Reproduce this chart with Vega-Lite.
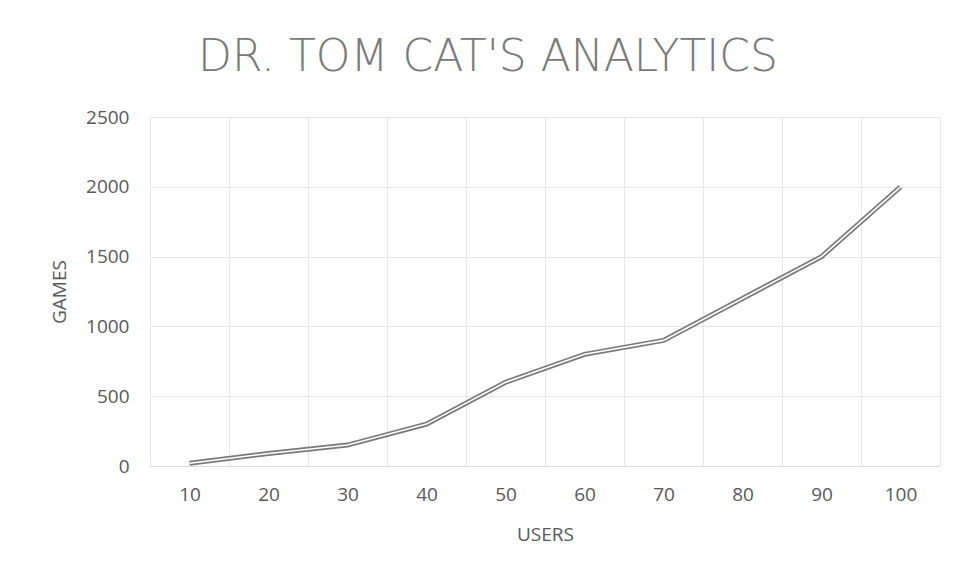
{
  "$schema": "https://vega.github.io/schema/vega-lite/v6.json",
  "autosize": "none",
  "width": 790,
  "height": 349,
  "padding": {"left": 150, "top": 117, "right": 18, "bottom": 111},
  "background": "white",
  "title": {
    "text": "DR. TOM CAT'S ANALYTICS",
    "font": "DejaVu Sans",
    "fontSize": 44,
    "fontWeight": 200,
    "color": "#7a7a7a",
    "anchor": "middle",
    "offset": 28,
    "dx": -57
  },
  "data": {
    "values": [
      {"users": "10", "games": 20},
      {"users": "20", "games": 90},
      {"users": "30", "games": 150},
      {"users": "40", "games": 300},
      {"users": "50", "games": 600},
      {"users": "60", "games": 800},
      {"users": "70", "games": 900},
      {"users": "80", "games": 1200},
      {"users": "90", "games": 1500},
      {"users": "100", "games": 2000}
    ]
  },
  "encoding": {
    "x": {
      "field": "users",
      "type": "ordinal",
      "sort": null,
      "scale": {"type": "band", "paddingInner": 0, "paddingOuter": 0},
      "axis": {
        "title": "USERS",
        "labelAngle": 0,
        "tickBand": "extent",
        "grid": true,
        "ticks": false,
        "domain": true,
        "domainColor": "#d9d9d9",
        "gridColor": "#e6e6e6",
        "labelPadding": 19,
        "titlePadding": 21
      }
    },
    "y": {
      "field": "games",
      "type": "quantitative",
      "scale": {"domain": [0, 2500]},
      "axis": {
        "title": "GAMES",
        "format": "d",
        "values": [0, 500, 1000, 1500, 2000, 2500],
        "grid": true,
        "ticks": false,
        "domain": false,
        "gridColor": "#e6e6e6",
        "labelPadding": 21,
        "titlePadding": 16
      }
    }
  },
  "layer": [
    {"mark": {"type": "line", "color": "#7a7a7a", "strokeWidth": 5}},
    {"mark": {"type": "line", "color": "#ffffff", "strokeWidth": 1.6}}
  ],
  "config": {
    "view": {"stroke": "#e6e6e6"},
    "axis": {
      "labelFont": "Open Sans",
      "labelFontSize": 19,
      "labelColor": "#595959",
      "titleFont": "Open Sans",
      "titleFontSize": 19,
      "titleFontWeight": "normal",
      "titleColor": "#595959"
    }
  }
}
